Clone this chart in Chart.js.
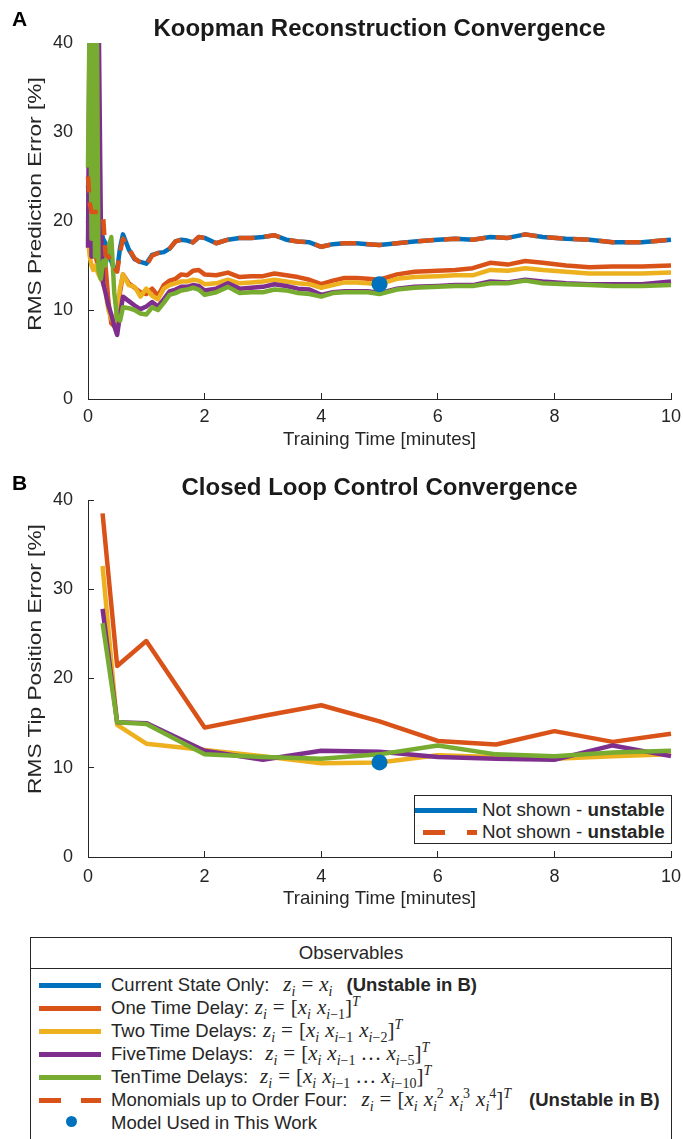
<!DOCTYPE html>
<html>
<head>
<meta charset="utf-8">
<script src="https://cdn.jsdelivr.net/npm/chart.js@4.4.0/dist/chart.umd.min.js"></script>
<style>
body { margin: 0; width: 683px; height: 1139px; overflow: hidden; background: #fff; position: relative;
  font-family: "Liberation Sans", Arial, sans-serif; color: #262626; }
.wrap { position: absolute; left: 0; width: 683px; }
#wrapA { top: 0; height: 460px; }
#wrapB { top: 460px; height: 455px; }
.letter { position: absolute; left: 12px; font-weight: bold; font-size: 21px; color: #000; line-height: 1; }
.title { position: absolute; left: 88px; width: 583px; text-align: center; font-weight: bold; font-size: 24px; color: #1a1a1a; line-height: 1; }
.ytitle { position: absolute; font-size: 18.6px; line-height: 1; white-space: nowrap;
  transform: translate(-50%, -50%) rotate(-90deg) scaleX(1.22); }
.lgB { position: absolute; left: 414px; top: 795px; width: 256px; height: 47px; border: 1px solid #262626; background: #fff; }
.lgB .row { font-size: 18.8px; }
.row { position: absolute; left: 0; height: 23px; line-height: 23px; font-size: 18.5px; white-space: nowrap; }
.sym { position: absolute; height: 4.5px; }
.obs { position: absolute; left: 30px; top: 937px; width: 640px; height: 220px; border: 1px solid #262626; border-bottom: none; }
.obs .head { position: absolute; left: 0; top: 0; width: 640px; height: 30px; line-height: 30px; text-align: center; font-size: 18.6px; border-bottom: 1px solid #262626; }
.m { font-family: "Liberation Serif", "DejaVu Serif", serif; font-style: italic; font-size: 21px; }
.m sub, .m sup { font-size: 14px; line-height: 0; }
.m .up { font-style: normal; }
.m .eq { font-style: normal; margin: 0 6px; }
.m .sp { display: inline-block; width: 6px; }
.m .dots { font-style: normal; margin: 0 5px; }
</style>
</head>
<body>
<div class="wrap" id="wrapA"><canvas id="chartA" width="683" height="460"></canvas></div>
<div class="wrap" id="wrapB"><canvas id="chartB" width="683" height="455"></canvas></div>

<div class="letter" style="top:8px">A</div>
<div class="title" style="top:16px">Koopman Reconstruction Convergence</div>
<div class="ytitle" style="left:35px;top:204px">RMS Prediction Error [%]</div>
<div class="letter" style="top:472px">B</div>
<div class="title" style="top:475px">Closed Loop Control Convergence</div>
<div class="ytitle" style="left:35px;top:659px">RMS Tip Position Error [%]</div>

<div class="lgB">
  <div class="sym" style="left:0;top:12px;width:62px;background:#0072BD"></div>
  <div class="row" style="left:67px;top:2px">Not shown - <b>unstable</b></div>
  <div class="sym" style="left:8px;top:34px;width:22px;background:#D95319"></div>
  <div class="sym" style="left:52px;top:34px;width:10px;background:#D95319"></div>
  <div class="row" style="left:67px;top:24px">Not shown - <b>unstable</b></div>
</div>

<div class="obs">
  <div class="head">Observables</div>
  <div class="sym" style="left:8px;top:45px;width:62px;background:#0072BD"></div>
  <div class="row" style="left:80px;top:35px"><span>Current State Only:</span><span class="m" style="margin-left:14px">z<sub>i</sub><span class="eq">=</span>x<sub>i</sub></span><b style="margin-left:14px">(Unstable in B)</b></div>
  <div class="sym" style="left:8px;top:68px;width:62px;background:#D95319"></div>
  <div class="row" style="left:80px;top:58px"><span>One Time Delay:</span><span class="m" style="margin-left:6px">z<sub>i</sub><span class="eq">=</span><span class="up">[</span>x<sub>i</sub><span class="sp"></span>x<sub>i<span class="up">−1</span></sub><span class="up">]</span><sup>T</sup></span></div>
  <div class="sym" style="left:8px;top:91px;width:62px;background:#EDB120"></div>
  <div class="row" style="left:80px;top:81px"><span>Two Time Delays:</span><span class="m" style="margin-left:6px">z<sub>i</sub><span class="eq">=</span><span class="up">[</span>x<sub>i</sub><span class="sp"></span>x<sub>i<span class="up">−1</span></sub><span class="sp"></span>x<sub>i<span class="up">−2</span></sub><span class="up">]</span><sup>T</sup></span></div>
  <div class="sym" style="left:8px;top:114px;width:62px;background:#7E2F8E"></div>
  <div class="row" style="left:80px;top:104px"><span>FiveTime Delays:</span><span class="m" style="margin-left:12px">z<sub>i</sub><span class="eq">=</span><span class="up">[</span>x<sub>i</sub><span class="sp"></span>x<sub>i<span class="up">−1</span></sub><span class="dots">…</span>x<sub>i<span class="up">−5</span></sub><span class="up">]</span><sup>T</sup></span></div>
  <div class="sym" style="left:8px;top:137px;width:62px;background:#77AC30"></div>
  <div class="row" style="left:80px;top:127px"><span>TenTime Delays:</span><span class="m" style="margin-left:12px">z<sub>i</sub><span class="eq">=</span><span class="up">[</span>x<sub>i</sub><span class="sp"></span>x<sub>i<span class="up">−1</span></sub><span class="dots">…</span>x<sub>i<span class="up">−10</span></sub><span class="up">]</span><sup>T</sup></span></div>
  <div class="sym" style="left:8px;top:160px;width:22px;background:#D95319"></div>
  <div class="sym" style="left:50px;top:160px;width:20px;background:#D95319"></div>
  <div class="row" style="left:80px;top:150px"><span>Monomials up to Order Four:</span><span class="m" style="margin-left:14px">z<sub>i</sub><span class="eq">=</span><span class="up">[</span>x<sub>i</sub><span class="sp"></span>x<sub>i</sub><sup class="up">2</sup><span class="sp"></span>x<sub>i</sub><sup class="up">3</sup><span class="sp"></span>x<sub>i</sub><sup class="up">4</sup><span class="up">]</span><sup>T</sup></span><b style="margin-left:18px">(Unstable in B)</b></div>
  <div class="sym" style="left:35px;top:178px;width:11px;height:11px;border-radius:50%;background:#0072BD"></div>
  <div class="row" style="left:80px;top:173px">Model Used in This Work</div>
</div>

<script>
// panel A: training time [min] and RMS prediction error [%]
const tA = [0, 0.03, 0.06, 0.09, 0.12, 0.15, 0.18, 0.22, 0.26, 0.3, 0.35, 0.4, 0.45, 0.5, 0.55, 0.6,
  0.7, 0.8, 0.9, 1.0, 1.1, 1.2, 1.3, 1.4, 1.5, 1.6, 1.7, 1.8, 1.9, 2.0,
  2.2, 2.4, 2.6, 2.8, 3.0, 3.2, 3.4, 3.6, 3.8, 4.0, 4.2, 4.4, 4.6, 4.8, 5.0,
  5.3, 5.6, 6.0, 6.3, 6.6, 6.9, 7.2, 7.5, 7.8, 8.2, 8.6, 9.0, 9.5, 10.0];

const currentA = [24, 21, 20, 20.5, 20.5, 20, 19.5, 19, 18, 17.5, 16, 15.5, 14.5, 14.5, 17, 18.5,
  16.8, 15.7, 15.4, 15.2, 16.2, 16.4, 16.5, 16.9, 17.7, 17.9, 17.8, 17.6, 18.2, 18.1,
  17.5, 17.9, 18.1, 18.1, 18.2, 18.4, 17.9, 17.7, 17.6, 17.1, 17.4, 17.5, 17.5, 17.4, 17.3,
  17.5, 17.7, 17.9, 18.0, 17.9, 18.2, 18.1, 18.5, 18.2, 18.0, 17.9, 17.6, 17.6, 17.9];

const oneDelayA = [20, 18, 17, 16, 16.5, 15.5, 15, 14, 16, 15, 11, 8.5, 8.2, 9.5, 12, 14.0,
  13.0, 12.5, 12.0, 11.8, 12.4, 11.6, 12.8, 13.3, 13.5, 14.0, 13.9, 14.4, 14.5, 14.0,
  13.9, 14.2, 13.7, 13.8, 13.8, 14.1, 13.9, 13.7, 13.4, 12.9, 13.3, 13.6, 13.6, 13.5, 13.4,
  14.0, 14.3, 14.4, 14.5, 14.7, 15.3, 15.1, 15.5, 15.3, 15.0, 14.8, 14.9, 14.9, 15.0];

const twoDelayA = [18, 16, 15, 14.5, 15, 14.5, 14, 13.5, 13, 12, 10, 9, 8.5, 10, 12.5, 14.0,
  12.8, 12.6, 11.5, 12.4, 11.6, 11.2, 12.4, 12.8, 13.0, 13.2, 13.2, 13.4, 13.3, 12.9,
  13.0, 13.4, 13.0, 13.1, 13.2, 13.4, 13.2, 13.0, 12.9, 12.5, 12.8, 13.1, 13.1, 13.0, 12.9,
  13.5, 13.7, 13.8, 13.9, 13.9, 14.5, 14.4, 14.7, 14.5, 14.3, 14.1, 14.1, 14.1, 14.2];

const fiveDelayA = [17, 45, 16, 45, 17, 45, 45, 20, 13, 12, 10.5, 9.5, 8.2, 7.2, 9.5, 11.5,
  11.0, 10.5, 10.1, 10.4, 10.9, 10.4, 11.2, 12.1, 12.3, 12.6, 12.6, 12.8, 12.7, 12.2,
  12.4, 13.0, 12.4, 12.5, 12.6, 12.9, 12.7, 12.4, 12.3, 11.7, 12.0, 12.1, 12.1, 12.1, 11.9,
  12.4, 12.6, 12.7, 12.8, 12.8, 13.2, 13.1, 13.4, 13.2, 13.0, 12.9, 12.9, 12.9, 13.2];

const tenDelayA = [26, 45, 18, 45, 16, 45, 14.5, 13.5, 15.5, 15.0, 17, 18.2, 12, 9, 8.8, 10.3,
  10.2, 10.0, 9.6, 9.5, 10.3, 10.0, 10.8, 11.7, 11.9, 12.2, 12.3, 12.5, 12.3, 11.7,
  12.0, 12.6, 11.9, 12.0, 12.0, 12.3, 12.2, 11.9, 11.8, 11.5, 11.9, 12.0, 12.0, 12.0, 11.8,
  12.3, 12.5, 12.6, 12.7, 12.7, 13.0, 13.0, 13.3, 13.0, 12.9, 12.8, 12.7, 12.7, 12.8];

const monomialA = [25, 22, 21, 21, 21, 21, 21, 20.8, 20.5, 16.2, 16, 15.5, 14.8, 14.3, 16.5, 18.0,
  16.9, 15.8, 15.3, 15.0, 16.1, 16.4, 16.5, 16.9, 17.7, 17.9, 17.8, 17.6, 18.2, 18.1,
  17.5, 17.9, 18.1, 18.1, 18.2, 18.4, 17.9, 17.7, 17.6, 17.1, 17.4, 17.5, 17.5, 17.4, 17.3,
  17.5, 17.7, 17.9, 18.0, 17.9, 18.2, 18.1, 18.5, 18.2, 18.0, 17.9, 17.6, 17.6, 17.9];

const modelA = [5, 12.9];

// panel B: RMS tip position error [%]
const tB = [0.25, 0.5, 1, 2, 3, 4, 5, 6, 7, 8, 9, 10];
const oneDelayB = [38.5, 21.4, 24.2, 14.5, 15.8, 17.0, 15.2, 13.0, 12.6, 14.1, 12.9, 13.8];
const twoDelayB = [32.6, 14.8, 12.7, 12.0, 11.3, 10.5, 10.6, 11.4, 11.2, 11.0, 11.3, 11.5];
const fiveDelayB = [27.8, 15.1, 15.0, 11.9, 10.9, 11.9, 11.8, 11.2, 11.0, 10.9, 12.5, 11.3];
const tenDelayB = [26.2, 15.1, 14.9, 11.5, 11.2, 11.0, 11.5, 12.5, 11.5, 11.3, 11.7, 11.9];
const modelB = [5, 10.6];

const xTicks = [0, 2, 4, 6, 8, 10];
const yTicks = [0, 10, 20, 30, 40];

const BLUE = "#0072BD", ORANGE = "#D95319", YELLOW = "#EDB120", PURPLE = "#7E2F8E", GREEN = "#77AC30";
const FONT = "'Liberation Sans', Arial, sans-serif";
const INK = "#262626";

function pts(t, v) {
    return t.map(function (x, i) { return {x: x, y: v[i]}; });
}

function line(label, t, v, color, order, dash) {
    return {
        label: label,
        data: pts(t, v),
        borderColor: color,
        backgroundColor: color,
        borderWidth: 4.5,
        borderDash: dash || [],
        borderJoinStyle: "round",
        pointRadius: 0,
        tension: 0,
        order: order,
        clip: {left: 3, top: 0, right: 3, bottom: 3}
    };
}

function dot(p) {
    return {
        label: "Model Used in This Work",
        data: [{x: p[0], y: p[1]}],
        showLine: false,
        pointRadius: 8,
        pointBackgroundColor: BLUE,
        pointBorderWidth: 0,
        order: 0
    };
}

function options(top, xH, tickPad, titlePad) {
    return {
        responsive: false,
        animation: false,
        layout: {padding: {left: 0, right: 12, top: top, bottom: 0}},
        plugins: {legend: {display: false}, tooltip: {enabled: false}},
        scales: {
            x: {
                type: "linear", min: 0, max: 10,
                afterBuildTicks: function (s) { s.ticks = xTicks.map(function (v) { return {value: v}; }); },
                afterFit: function (s) { s.height = xH; s.paddingLeft = 0; s.paddingRight = 0; },
                ticks: {color: INK, font: {family: FONT, size: 18}, padding: tickPad, maxRotation: 0},
                grid: {drawOnChartArea: false, tickLength: -6, color: INK},
                border: {color: INK, width: 1},
                title: {display: true, text: "Training Time [minutes]", color: INK,
                    font: {family: FONT, size: 18.6}, padding: {top: 0, bottom: titlePad}}
            },
            y: {
                type: "linear", min: 0, max: 40,
                afterBuildTicks: function (s) { s.ticks = yTicks.map(function (v) { return {value: v}; }); },
                afterFit: function (s) { s.width = 88; s.paddingTop = 0; s.paddingBottom = 0; },
                ticks: {color: INK, font: {family: FONT, size: 18}, padding: 21},
                grid: {drawOnChartArea: false, tickLength: -6, color: INK},
                border: {color: INK, width: 1}
            }
        }
    };
}

new Chart(document.getElementById("chartA").getContext("2d"), {
    type: "line",
    data: {
        datasets: [
            line("Current State Only", tA, currentA, BLUE, 6),
            line("One Time Delay", tA, oneDelayA, ORANGE, 5),
            line("Two Time Delays", tA, twoDelayA, YELLOW, 4),
            line("FiveTime Delays", tA, fiveDelayA, PURPLE, 3),
            line("TenTime Delays", tA, tenDelayA, GREEN, 2),
            line("Monomials up to Order Four", tA, monomialA, ORANGE, 1, [16, 10]),
            dot(modelA)
        ]
    },
    options: options(43, 61, 13, 9)
});

new Chart(document.getElementById("chartB").getContext("2d"), {
    type: "line",
    data: {
        datasets: [
            line("One Time Delay", tB, oneDelayB, ORANGE, 5),
            line("Two Time Delays", tB, twoDelayB, YELLOW, 4),
            line("FiveTime Delays", tB, fiveDelayB, PURPLE, 3),
            line("TenTime Delays", tB, tenDelayB, GREEN, 2),
            dot(modelB)
        ]
    },
    options: options(40, 58, 15, 5)
});
</script>
</body>
</html>
